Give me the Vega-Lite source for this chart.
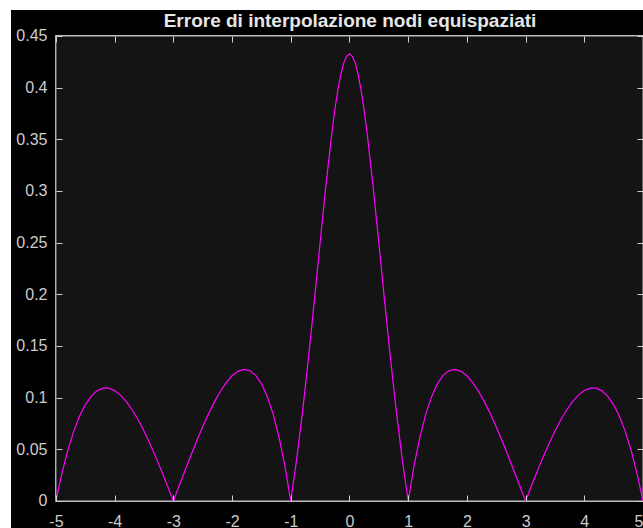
{
  "$schema": "https://vega.github.io/schema/vega-lite/v6.json",
  "autosize": "none",
  "width": 632,
  "height": 518,
  "padding": {"left": 11, "top": 10, "right": 0, "bottom": 0},
  "background": "white",
  "title": {
    "text": "Errore di interpolazione nodi equispaziati",
    "font": "Liberation Sans",
    "fontSize": 19,
    "fontWeight": "bold",
    "color": "#e6e6e6",
    "anchor": "middle",
    "baseline": "alphabetic",
    "offset": -36,
    "dx": 23
  },
  "config": {
    "view": {"fill": "black", "stroke": null},
    "axis": {
      "labelFont": "Liberation Sans",
      "labelFontSize": 16,
      "labelColor": "#cccccc",
      "tickColor": "#d0d0d0",
      "tickSize": 6,
      "tickWidth": 1,
      "grid": false,
      "domain": false,
      "title": null
    }
  },
  "data": {
    "values": [
      {"x": -5.0, "err": 0}, {"x": -4.9, "err": 0.0263}, {"x": -4.8, "err": 0.0485}, {"x": -4.7, "err": 0.0669},
      {"x": -4.6, "err": 0.0817}, {"x": -4.5, "err": 0.0931}, {"x": -4.4, "err": 0.1013}, {"x": -4.3, "err": 0.1066},
      {"x": -4.2, "err": 0.1092}, {"x": -4.1, "err": 0.1092}, {"x": -4.0, "err": 0.1069}, {"x": -3.9, "err": 0.1025},
      {"x": -3.8, "err": 0.0962}, {"x": -3.7, "err": 0.0881}, {"x": -3.6, "err": 0.0786}, {"x": -3.5, "err": 0.0677},
      {"x": -3.4, "err": 0.0556}, {"x": -3.3, "err": 0.0427}, {"x": -3.2, "err": 0.0289}, {"x": -3.1, "err": 0.0147},
      {"x": -3.0, "err": 0}, {"x": -2.9, "err": 0.0148}, {"x": -2.8, "err": 0.0296}, {"x": -2.7, "err": 0.0442},
      {"x": -2.6, "err": 0.0583}, {"x": -2.5, "err": 0.0718}, {"x": -2.4, "err": 0.0844}, {"x": -2.3, "err": 0.0959},
      {"x": -2.2, "err": 0.1060}, {"x": -2.1, "err": 0.1146}, {"x": -2.0, "err": 0.1212}, {"x": -1.9, "err": 0.1255},
      {"x": -1.8, "err": 0.1273}, {"x": -1.7, "err": 0.1262}, {"x": -1.6, "err": 0.1218}, {"x": -1.5, "err": 0.1136},
      {"x": -1.4, "err": 0.1012}, {"x": -1.3, "err": 0.0841}, {"x": -1.2, "err": 0.0618}, {"x": -1.1, "err": 0.0339},
      {"x": -1.0, "err": 0}, {"x": -0.9, "err": 0.0400}, {"x": -0.8, "err": 0.0860}, {"x": -0.7, "err": 0.1373},
      {"x": -0.6, "err": 0.1927}, {"x": -0.5, "err": 0.2499}, {"x": -0.4, "err": 0.3058}, {"x": -0.3, "err": 0.3563},
      {"x": -0.25, "err": 0.3782}, {"x": -0.2, "err": 0.3970}, {"x": -0.15, "err": 0.4122}, {"x": -0.1, "err": 0.4235},
      {"x": -0.05, "err": 0.4304}, {"x": 0.0, "err": 0.4327}, {"x": 0.05, "err": 0.4304}, {"x": 0.1, "err": 0.4235},
      {"x": 0.15, "err": 0.4122}, {"x": 0.2, "err": 0.3970}, {"x": 0.25, "err": 0.3782}, {"x": 0.3, "err": 0.3563},
      {"x": 0.4, "err": 0.3058}, {"x": 0.5, "err": 0.2499}, {"x": 0.6, "err": 0.1927}, {"x": 0.7, "err": 0.1373},
      {"x": 0.8, "err": 0.0860}, {"x": 0.9, "err": 0.0400}, {"x": 1.0, "err": 0}, {"x": 1.1, "err": 0.0339},
      {"x": 1.2, "err": 0.0618}, {"x": 1.3, "err": 0.0841}, {"x": 1.4, "err": 0.1012}, {"x": 1.5, "err": 0.1136},
      {"x": 1.6, "err": 0.1218}, {"x": 1.7, "err": 0.1262}, {"x": 1.8, "err": 0.1273}, {"x": 1.9, "err": 0.1255},
      {"x": 2.0, "err": 0.1212}, {"x": 2.1, "err": 0.1146}, {"x": 2.2, "err": 0.1060}, {"x": 2.3, "err": 0.0959},
      {"x": 2.4, "err": 0.0844}, {"x": 2.5, "err": 0.0718}, {"x": 2.6, "err": 0.0583}, {"x": 2.7, "err": 0.0442},
      {"x": 2.8, "err": 0.0296}, {"x": 2.9, "err": 0.0148}, {"x": 3.0, "err": 0}, {"x": 3.1, "err": 0.0147},
      {"x": 3.2, "err": 0.0289}, {"x": 3.3, "err": 0.0427}, {"x": 3.4, "err": 0.0556}, {"x": 3.5, "err": 0.0677},
      {"x": 3.6, "err": 0.0786}, {"x": 3.7, "err": 0.0881}, {"x": 3.8, "err": 0.0962}, {"x": 3.9, "err": 0.1025},
      {"x": 4.0, "err": 0.1069}, {"x": 4.1, "err": 0.1092}, {"x": 4.2, "err": 0.1092}, {"x": 4.3, "err": 0.1066},
      {"x": 4.4, "err": 0.1013}, {"x": 4.5, "err": 0.0931}, {"x": 4.6, "err": 0.0817}, {"x": 4.7, "err": 0.0669},
      {"x": 4.8, "err": 0.0485}, {"x": 4.9, "err": 0.0263}, {"x": 5.0, "err": 0}
    ]
  },
  "layer": [
    {
      "mark": {"type": "rect", "fill": "#141414", "stroke": "#bdbdbd", "strokeWidth": 1},
      "encoding": {
        "x": {"datum": -5, "type": "quantitative", "scale": {"domain": [-5.765, 5.0], "nice": false, "zero": false},
              "axis": {"orient": "top", "offset": -32, "zindex": 1, "values": [-5, -4, -3, -2, -1, 0, 1, 2, 3, 4, 5], "labels": false}},
        "x2": {"datum": 5},
        "y": {"datum": 0, "type": "quantitative", "scale": {"domain": [-0.02613, 0.47516], "nice": false, "zero": false},
              "axis": {"orient": "right", "offset": -6, "zindex": 1, "values": [0, 0.05, 0.1, 0.15, 0.2, 0.25, 0.3, 0.35, 0.4, 0.45], "labels": false}},
        "y2": {"datum": 0.45}
      }
    },
    {
      "mark": {"type": "line", "color": "#ff00ff", "strokeWidth": 1.2, "interpolate": "linear"},
      "encoding": {
        "x": {"field": "x", "type": "quantitative",
              "axis": {"orient": "bottom", "offset": -33, "zindex": 1, "values": [-5, -4, -3, -2, -1, 0, 1, 2, 3, 4, 5], "labelExpr": "datum.value + ''", "labelPadding": 12}},
        "y": {"field": "err", "type": "quantitative",
              "axis": {"orient": "left", "offset": -51, "zindex": 1, "values": [0, 0.05, 0.1, 0.15, 0.2, 0.25, 0.3, 0.35, 0.4, 0.45], "labelExpr": "datum.value + ''", "labelPadding": 9}}
      }
    }
  ],
  "resolve": {"axis": {"x": "independent", "y": "independent"}}
}
